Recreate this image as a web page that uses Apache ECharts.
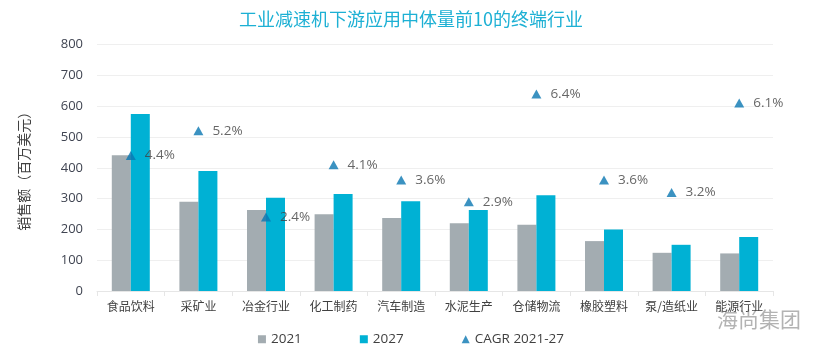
<!DOCTYPE html>
<html><head><meta charset="utf-8">
<script src="https://cdn.jsdelivr.net/npm/echarts@6/dist/echarts.min.js"></script>
<style>html,body{margin:0;padding:0;background:#fff}#c{width:822px;height:356px}</style>
</head><body><div id="c"></div>
<script>
const title = '工业减速机下游应用中体量前10的终端行业';
const categories = ['食品饮料','采矿业','冶金行业','化工制药','汽车制造','水泥生产','仓储物流','橡胶塑料','泵/造纸业','能源行业'];
const sales2021 = [441, 290, 263, 249, 237, 220, 215, 162, 124, 122];
const sales2027 = [575, 390, 303, 315, 291, 263, 311, 200, 150, 175];
const cagr = [4.4, 5.2, 2.4, 4.1, 3.6, 2.9, 6.4, 3.6, 3.2, 6.1];
const yTicks = [0, 100, 200, 300, 400, 500, 600, 700, 800];

const chart = echarts.init(document.getElementById('c'), null, {renderer:'canvas'});
const font = '"Open Sans","Noto Sans CJK SC",sans-serif';
chart.setOption({
  animation:false,
  textStyle:{fontFamily:font},
  title:{text:title,left:'center',top:5,textStyle:{color:'#1DB0D4',fontSize:18,fontWeight:'normal',fontFamily:'"Noto Sans CJK SC",sans-serif'}},
  grid:{left:97,right:49,top:44.6,bottom:65},
  legend:{bottom:5,left:'center',itemGap:58,itemWidth:8,itemHeight:8,
    textStyle:{color:'#404040',fontSize:13.5,fontFamily:font},
    data:[{name:'2021',icon:'rect'},{name:'2027',icon:'rect'},{name:'CAGR 2021-27',icon:'triangle'}]},
  xAxis:{type:'category',data:categories,
    axisLine:{lineStyle:{color:'#e6e6e6'}},
    axisTick:{show:true,length:5,lineStyle:{color:'#e6e6e6'}},
    axisLabel:{color:'#404040',fontSize:12,margin:9,interval:0,fontFamily:'"Noto Sans CJK SC",sans-serif'}},
  yAxis:[{type:'value',min:yTicks[0],max:yTicks[yTicks.length-1],interval:100,
    name:'销售额（百万美元）',nameLocation:'middle',nameGap:66,nameRotate:90,
    nameTextStyle:{color:'#404040',fontSize:14,fontFamily:'"Noto Sans CJK SC",sans-serif'},
    axisLine:{show:false},axisTick:{show:false},
    axisLabel:{color:'#404552',fontSize:13,margin:14},
    splitLine:{lineStyle:{color:'#efefef'}}},
    {type:'value',min:0,max:8,show:false,splitLine:{show:false}}],
  series:[
    {name:'2021',type:'bar',data:sales2021,barWidth:19,barGap:'0%',itemStyle:{color:'#A3ACB1'}},
    {name:'2027',type:'bar',data:sales2027,barWidth:19,barGap:'0%',itemStyle:{color:'#00B1D4'}},
    {name:'CAGR 2021-27',type:'scatter',yAxisIndex:1,data:cagr,symbol:'triangle',symbolSize:[10,9],
      itemStyle:{color:'#0A77B2'},z:5,
      label:{show:true,position:'right',distance:9,color:'#404040',fontSize:13.5,formatter:p=>p.value.toFixed(1)+'%'}}
  ],
  graphic:[{type:'text',left:717,top:309,style:{text:'海尚集团',fill:'#8a8a8a',font:'21px "Noto Sans CJK SC"',opacity:0.65}}]
});
</script></body></html>
